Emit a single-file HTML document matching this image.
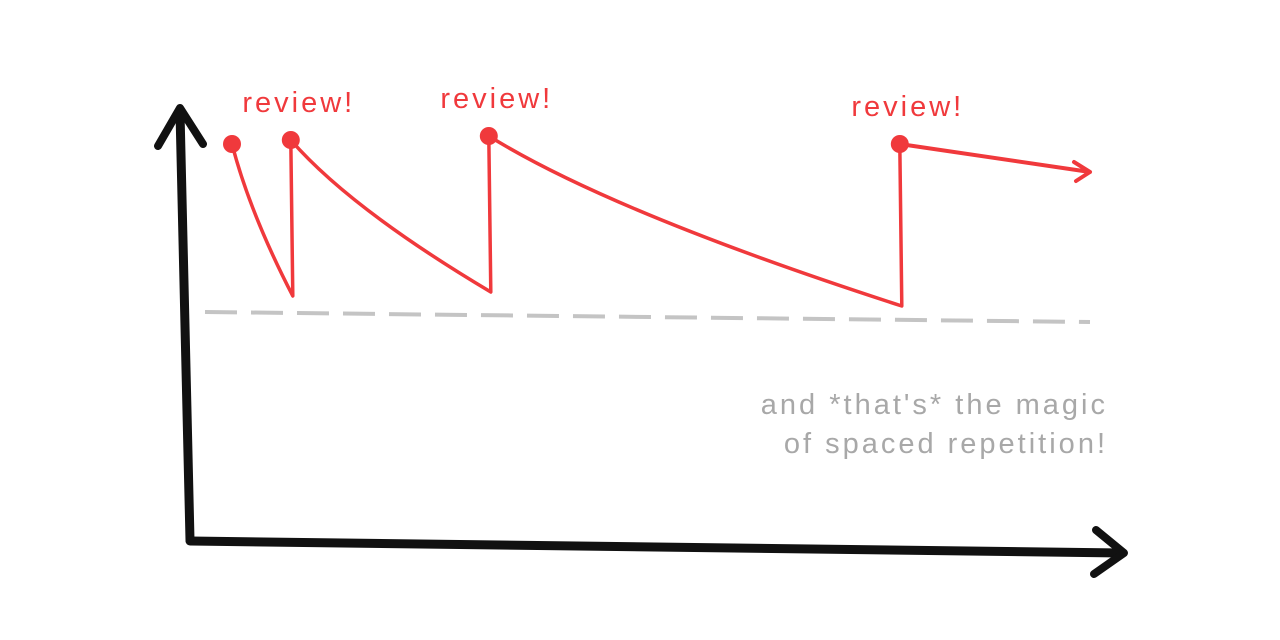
<!DOCTYPE html>
<html>
<head>
<meta charset="utf-8">
<style>
  html,body{margin:0;padding:0;background:#fff;}
  svg{display:block;}
  text{font-family:"Liberation Sans","DejaVu Sans",sans-serif;}
</style>
</head>
<body>
<svg id="chart" width="1280" height="640" viewBox="0 0 1280 640">
  <g id="axes">
    <path d="M190 540 L180 112" stroke="#111" stroke-width="9" stroke-linecap="round" fill="none"/>
    <path d="M158 146 L180 108 L203 144" stroke="#111" stroke-width="8" stroke-linecap="round" stroke-linejoin="round" fill="none"/>
    <path d="M190 541 L1122 553" stroke="#111" stroke-width="9" stroke-linecap="round" fill="none"/>
    <path d="M1096 530 L1124 553 L1094 574" stroke="#111" stroke-width="8" stroke-linecap="round" stroke-linejoin="round" fill="none"/>
  </g>
  <line id="threshold" stroke="#c4c4c4" stroke-width="4" stroke-dasharray="32 14"/>
  <g id="series"></g>
  <g id="labels"></g>
  <text x="1108" y="414" text-anchor="end" font-size="29" letter-spacing="3" fill="#a8a8a8">and *that's* the magic</text>
  <text x="1108" y="453" text-anchor="end" font-size="29" letter-spacing="3" fill="#a8a8a8">of spaced repetition!</text>
</svg>
<script>
// data
const reviewTimes = [0, 0.98, 4.28, 11.13];
const peakMemory = [0.99, 1.0, 1.01, 0.99];
const troughMemory = [0.61, 0.62, 0.585];
const endTime = 14.3;
const endMemory = 0.92;
const thresholdMemory = [0.57, 0.545];
const thresholdTimes = [-0.45, 14.3];
const reviewLabels = ["review!", "review!", "review!"];

const xs = t => 232 + t * 60;
const ys = m => 540 - m * 400;
const NS = "http://www.w3.org/2000/svg";
const series = document.getElementById("series");
const labels = document.getElementById("labels");

const th = document.getElementById("threshold");
th.setAttribute("x1", xs(thresholdTimes[0]));
th.setAttribute("y1", ys(thresholdMemory[0]));
th.setAttribute("x2", xs(thresholdTimes[1]));
th.setAttribute("y2", ys(thresholdMemory[1]));

const red = "#f0393c";
for (let i = 0; i < troughMemory.length; i++) {
  const x0 = xs(reviewTimes[i]), y0 = ys(peakMemory[i]);
  const x1 = xs(reviewTimes[i + 1]), y1 = ys(troughMemory[i]);
  const cx = x0 + (x1 - x0) * 0.3, cy = y0 + (y1 - y0) * 0.45;
  const p = document.createElementNS(NS, "path");
  p.setAttribute("d", `M${x0} ${y0} Q${cx} ${cy} ${x1 + 2} ${y1} L${x1} ${ys(peakMemory[i + 1])}`);
  p.setAttribute("stroke", red);
  p.setAttribute("stroke-width", "3.5");
  p.setAttribute("fill", "none");
  p.setAttribute("stroke-linecap", "round");
  p.setAttribute("stroke-linejoin", "round");
  
  
  series.appendChild(p);
}
const last = reviewTimes.length - 1;
const fx0 = xs(reviewTimes[last]), fy0 = ys(peakMemory[last]);
const fx1 = xs(endTime), fy1 = ys(endMemory);
const fp = document.createElementNS(NS, "path");
fp.setAttribute("d", `M${fx0} ${fy0} L${fx1} ${fy1} M${fx1 - 16} ${fy1 - 10} L${fx1} ${fy1} L${fx1 - 14} ${fy1 + 9}`);
fp.setAttribute("stroke", red);
fp.setAttribute("stroke-width", "4");
fp.setAttribute("fill", "none");
fp.setAttribute("stroke-linecap", "round");
fp.setAttribute("stroke-linejoin", "round");


series.appendChild(fp);

for (let i = 0; i < reviewTimes.length; i++) {
  const c = document.createElementNS(NS, "circle");
  c.setAttribute("cx", xs(reviewTimes[i]));
  c.setAttribute("cy", ys(peakMemory[i]));
  c.setAttribute("r", "9");
  c.setAttribute("fill", red);
  
  
  series.appendChild(c);
}
for (let i = 1; i < reviewTimes.length; i++) {
  const t = document.createElementNS(NS, "text");
  t.setAttribute("x", xs(reviewTimes[i]) + 8);
  t.setAttribute("y", ys(peakMemory[i]) - 28);
  t.setAttribute("text-anchor", "middle");
  t.setAttribute("font-size", "29");
  t.setAttribute("letter-spacing", "3");
  t.setAttribute("fill", red);
  t.textContent = reviewLabels[i - 1];
  
  
  labels.appendChild(t);
}
</script>
</body>
</html>
